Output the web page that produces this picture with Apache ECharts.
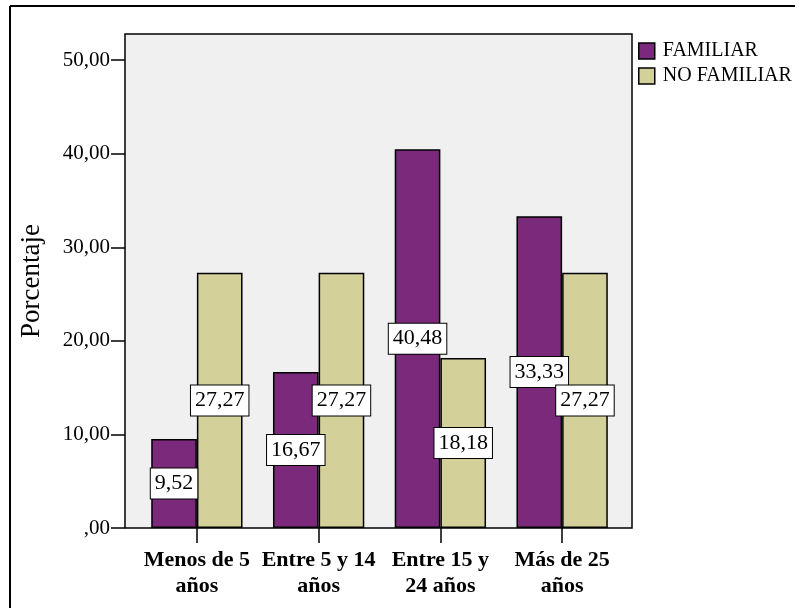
<!DOCTYPE html>
<html>
<head>
<meta charset="utf-8">
<style>
  html, body { margin: 0; padding: 0; background: #fff; }
  #chart { width: 800px; height: 608px; }
</style>
<script src="https://cdn.jsdelivr.net/npm/echarts@6/dist/echarts.min.js"></script>
</head>
<body>
<div id="chart"></div>
<script>
// Age groups and the percentage of each group per category
const categories = ['Menos de 5\naños', 'Entre 5 y 14\naños', 'Entre 15 y\n24 años', 'Más de 25\naños'];
const familiar = [9.52, 16.67, 40.48, 33.33];
const noFamiliar = [27.27, 27.27, 18.18, 27.27];
const yTicks = [0, 10, 20, 30, 40, 50];

const serif = '"Liberation Serif", "Times New Roman", serif';
const fmt = v => {
  const s = Number(v).toFixed(2).replace('.', ',');
  return s.startsWith('0,') ? s.slice(1) : s;
};

const valueLabel = {
  show: true,
  position: 'inside',
  formatter: p => fmt(p.value),
  color: '#000',
  fontFamily: serif,
  fontSize: 22,
  backgroundColor: '#fff',
  borderColor: '#000',
  borderWidth: 1,
  padding: [5, 4, 3, 4]
};

const chart = echarts.init(document.getElementById('chart'));
chart.setOption({
  animation: false,
  backgroundColor: '#fff',
  textStyle: { fontFamily: serif },
  graphic: [
    // outer frame (top and left edges)
    { type: 'line', z: 0, shape: { x1: 10, y1: 6, x2: 795, y2: 6 }, style: { stroke: '#000', lineWidth: 2 } },
    { type: 'line', z: 0, shape: { x1: 10, y1: 6, x2: 10, y2: 608 }, style: { stroke: '#000', lineWidth: 2 } },
    // plot area panel
    { type: 'rect', z: 0, shape: { x: 125, y: 34, width: 507, height: 494 },
      style: { fill: '#f0f0f0', stroke: '#000', lineWidth: 1.5 } }
  ],
  legend: {
    orient: 'vertical',
    left: 633,
    top: 36,
    itemWidth: 16,
    itemHeight: 16,
    itemGap: 5,
    icon: 'rect',
    itemStyle: { borderColor: '#000', borderWidth: 1.5 },
    textStyle: { fontFamily: serif, fontSize: 20, color: '#000', padding: [2, 0, 0, 3] },
    data: ['FAMILIAR', 'NO FAMILIAR']
  },
  grid: { left: 136, right: 177, top: 34, bottom: 80 },
  xAxis: {
    type: 'category',
    data: categories,
    axisLine: { show: false },
    axisTick: { show: true, alignWithLabel: true, length: 15, lineStyle: { color: '#000', width: 1.5 } },
    axisLabel: {
      interval: 0,
      margin: 19,
      color: '#000',
      fontFamily: serif,
      fontWeight: 'bold',
      fontSize: 22,
      lineHeight: 26
    },
    splitLine: { show: false }
  },
  yAxis: {
    type: 'value',
    min: 0,
    max: 52.8,
    interval: 10,
    offset: 11,
    name: 'Porcentaje',
    nameLocation: 'middle',
    nameGap: 80,
    nameRotate: 90,
    nameTextStyle: { fontFamily: serif, fontSize: 27, color: '#000' },
    axisLine: { show: false },
    axisTick: { show: true, length: 14, customValues: yTicks, lineStyle: { color: '#000', width: 1.5 } },
    axisLabel: {
      margin: 15,
      customValues: yTicks,
      formatter: fmt,
      color: '#000',
      fontFamily: serif,
      fontSize: 21
    },
    splitLine: { show: false }
  },
  series: [
    {
      name: 'FAMILIAR',
      type: 'bar',
      data: familiar,
      barGap: '0%',
      barCategoryGap: '25%',
      itemStyle: { color: '#7b2a7b', borderColor: '#000', borderWidth: 1.5 },
      label: valueLabel
    },
    {
      name: 'NO FAMILIAR',
      type: 'bar',
      data: noFamiliar,
      barGap: '0%',
      barCategoryGap: '25%',
      itemStyle: { color: '#d3d09a', borderColor: '#000', borderWidth: 1.5 },
      label: valueLabel
    }
  ]
});
</script>
</body>
</html>
